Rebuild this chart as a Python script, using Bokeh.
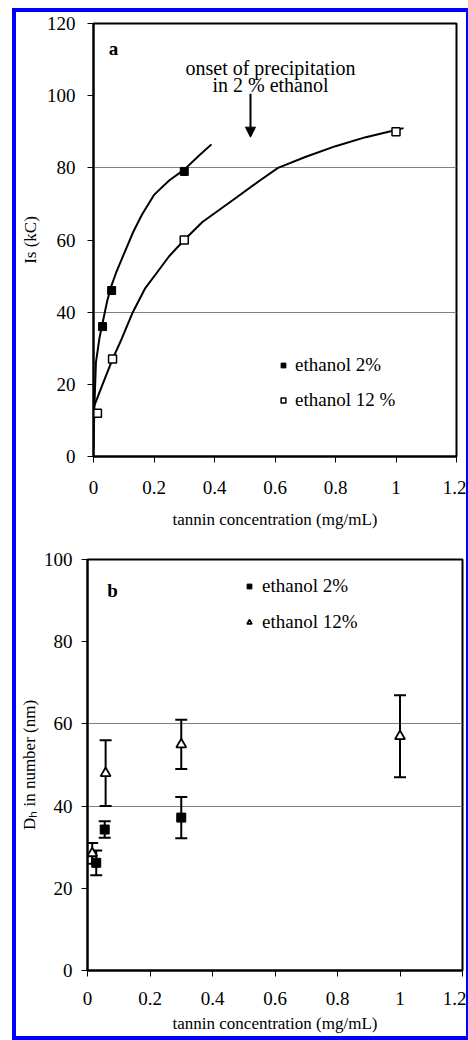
from bokeh.plotting import figure
from bokeh.layouts import column
from bokeh.models import (FixedTicker, Arrow, NormalHead, Label, Whisker, TeeHead,
                          ColumnDataSource, Legend, LegendItem)
from bokeh.embed import file_html
from bokeh.resources import INLINE

FONT = "Liberation Serif, serif"

# ---------------- data: panel a (light scattering intensity) ----------------
a_x_eth2 = [0.03, 0.06, 0.30]
a_y_eth2 = [36, 46, 79]
a_x_eth12 = [0.013, 0.063, 0.30, 1.0]
a_y_eth12 = [12, 27, 60, 90]

# trend curves
fit2_x = [0.0, 0.003, 0.008, 0.02, 0.03, 0.045, 0.06, 0.075, 0.10, 0.13, 0.16, 0.20, 0.25, 0.30, 0.35, 0.39]
fit2_y = [2, 14, 26, 33, 37, 43, 47.5, 51, 56, 62, 67, 72.5, 76.5, 79.5, 83.5, 86.5]
fit12_x = [0.0, 0.03, 0.063, 0.09, 0.13, 0.17, 0.21, 0.25, 0.30, 0.36, 0.46, 0.55, 0.61, 0.70, 0.80, 0.90, 1.0, 1.025]
fit12_y = [13.5, 20, 27, 32, 40, 46.5, 51, 55.5, 60, 65, 71, 76.5, 80, 83, 86, 88.5, 90.5, 91]

# ---------------- data: panel b (hydrodynamic diameter) ----------------
b_x_eth2 = [0.028, 0.055, 0.30]
b_y_eth2 = [26.2, 34.3, 37.2]
b_err_eth2 = [3, 2, 5]
b_x_eth12 = [0.015, 0.058, 0.30, 1.0]
b_y_eth12 = [28.5, 48, 55, 57]
b_err_eth12 = [2.5, 8, 6, 10]

x_ticks = [0, 0.2, 0.4, 0.6, 0.8, 1.0, 1.2]
x_tick_labels = ["0", "0.2", "0.4", "0.6", "0.8", "1", "1.2"]
a_y_ticks = [0, 20, 40, 60, 80, 100, 120]
b_y_ticks = [0, 20, 40, 60, 80, 100]
a_grid = [40, 80]
b_grid = [40, 60]

TICK_FS = "19px"
TITLE_FS = "17px"
TEXT_FS = "19px"
BLUE = "#0000ff"


def style(p, yticks, grid, xstand, ystand, ytitle_stand, xtitle_stand):
    p.frame_align = False
    p.xaxis.ticker = FixedTicker(ticks=x_ticks)
    p.xaxis.major_label_overrides = {t: l for t, l in zip(x_ticks, x_tick_labels)}
    p.yaxis.ticker = FixedTicker(ticks=yticks)
    for ax in (p.xaxis[0], p.yaxis[0]):
        ax.axis_line_color = "black"
        ax.axis_line_width = 2
        ax.major_tick_line_color = "black"
        ax.major_tick_line_width = 1
        ax.major_tick_out = 6
        ax.major_tick_in = 0
        ax.minor_tick_line_color = None
        ax.major_label_text_font = FONT
        ax.major_label_text_font_size = TICK_FS
        ax.major_label_text_color = "black"
        ax.axis_label_text_font = FONT
        ax.axis_label_text_font_size = TITLE_FS
        ax.axis_label_text_font_style = "normal"
        ax.axis_label_text_color = "black"
    p.xaxis.major_label_standoff = xstand
    p.yaxis.major_label_standoff = ystand
    p.yaxis.axis_label_standoff = ytitle_stand
    p.xaxis.axis_label_standoff = xtitle_stand
    p.xgrid.visible = False
    p.ygrid.ticker = FixedTicker(ticks=grid)
    p.ygrid.grid_line_color = "#808080"
    p.ygrid.grid_line_width = 1
    p.outline_line_color = "black"
    p.outline_line_width = 2
    p.outline_line_alpha = 1
    p.background_fill_color = "white"
    p.border_fill_color = "white"


# ---------------- panel a ----------------
pa = figure(width=450, height=528, x_range=(0, 1.2), y_range=(0, 120),
            output_backend="svg", toolbar_location=None,
            min_border_left=77, min_border_right=10, min_border_top=11, min_border_bottom=84,
            x_axis_label="tannin concentration (mg/mL)", y_axis_label="Is (kC)")
style(pa, a_y_ticks, a_grid, 18, 12, 4, 13)

pa.line(fit2_x, fit2_y, line_color="black", line_width=2)
pa.line(fit12_x, fit12_y, line_color="black", line_width=2)
ra2 = pa.scatter(a_x_eth2, a_y_eth2, marker="square", size=8, fill_color="black", line_color="black")
ra12 = pa.scatter(a_x_eth12, a_y_eth12, marker="square", size=8, fill_color="white",
                  line_color="black", line_width=1.5)

leg_a = Legend(items=[LegendItem(label="ethanol 2%", renderers=[ra2]),
                      LegendItem(label="ethanol 12 %", renderers=[ra12])],
               location=(184, 45), orientation="vertical",
               label_text_font=FONT, label_text_font_size=TEXT_FS, label_text_color="black",
               glyph_width=12, glyph_height=20, label_height=20, spacing=13,
               label_standoff=6, padding=0, margin=0,
               border_line_alpha=0, background_fill_alpha=0)
pa.add_layout(leg_a)

pa.add_layout(Arrow(end=NormalHead(size=10, fill_color="black", line_color="black"),
                    x_start=0.519, y_start=100.5, x_end=0.519, y_end=88.5,
                    line_width=2, line_color="black"))
pa.add_layout(Label(x=0.585, y=107.7, text="onset of precipitation", text_font=FONT,
                    text_color="black",
                    text_font_size="20px", text_align="center", text_baseline="middle"))
pa.add_layout(Label(x=0.585, y=103.0, text="in 2 % ethanol", text_font=FONT,
                    text_color="black",
                    text_font_size="20px", text_align="center", text_baseline="middle"))
pa.add_layout(Label(x=0.066, y=113, text="a", text_font=FONT, text_font_style="bold",
                    text_color="black",
                    text_font_size=TEXT_FS, text_align="center", text_baseline="middle"))

# ---------------- panel b ----------------
pb = figure(width=450, height=496, x_range=(0, 1.2), y_range=(0, 100),
            output_backend="svg", toolbar_location=None,
            min_border_left=71, min_border_right=4, min_border_top=19, min_border_bottom=66,
            x_axis_label="tannin concentration (mg/mL)", y_axis_label="Dₕ in number (nm)")
style(pb, b_y_ticks, b_grid, 15, 9, 2, 6)

src2 = ColumnDataSource(dict(x=b_x_eth2, y=b_y_eth2,
                             lo=[v - e for v, e in zip(b_y_eth2, b_err_eth2)],
                             hi=[v + e for v, e in zip(b_y_eth2, b_err_eth2)]))
src12 = ColumnDataSource(dict(x=b_x_eth12, y=b_y_eth12,
                              lo=[v - e for v, e in zip(b_y_eth12, b_err_eth12)],
                              hi=[v + e for v, e in zip(b_y_eth12, b_err_eth12)]))
for s in (src12, src2):
    pb.add_layout(Whisker(source=s, base="x", upper="hi", lower="lo", dimension="height",
                          line_color="black", line_width=2, level="underlay",
                          upper_head=TeeHead(size=12, line_width=2, line_color="black"),
                          lower_head=TeeHead(size=12, line_width=2, line_color="black")))
rb12 = pb.scatter("x", "y", source=src12, marker="triangle", size=10, fill_color="white",
                  line_color="black", line_width=1.8)
rb2 = pb.scatter("x", "y", source=src2, marker="square", size=9, fill_color="black",
                 line_color="black")

leg_b = Legend(items=[LegendItem(label="ethanol 2%", renderers=[rb2]),
                      LegendItem(label="ethanol 12%", renderers=[rb12])],
               location=(156, 337), orientation="vertical",
               label_text_font=FONT, label_text_font_size=TEXT_FS, label_text_color="black",
               glyph_width=12, glyph_height=20, label_height=20, spacing=14,
               label_standoff=7, padding=0, margin=0,
               border_line_alpha=0, background_fill_alpha=0)
pb.add_layout(leg_b)
pb.add_layout(Label(x=0.08, y=92.5, text="b", text_font=FONT, text_font_style="bold",
                    text_color="black",
                    text_font_size=TEXT_FS, text_align="center", text_baseline="middle"))

layout = column(pa, pb, spacing=0, margin=(8, 0, 0, 12),
                styles={"border-left": "4px solid " + BLUE,
                        "border-top": "4px solid " + BLUE,
                        "border-right": "2px solid " + BLUE,
                        "border-bottom": "4px solid " + BLUE,
                        "background-color": "white"})

open("out.html", "w").write(file_html(layout, INLINE))
